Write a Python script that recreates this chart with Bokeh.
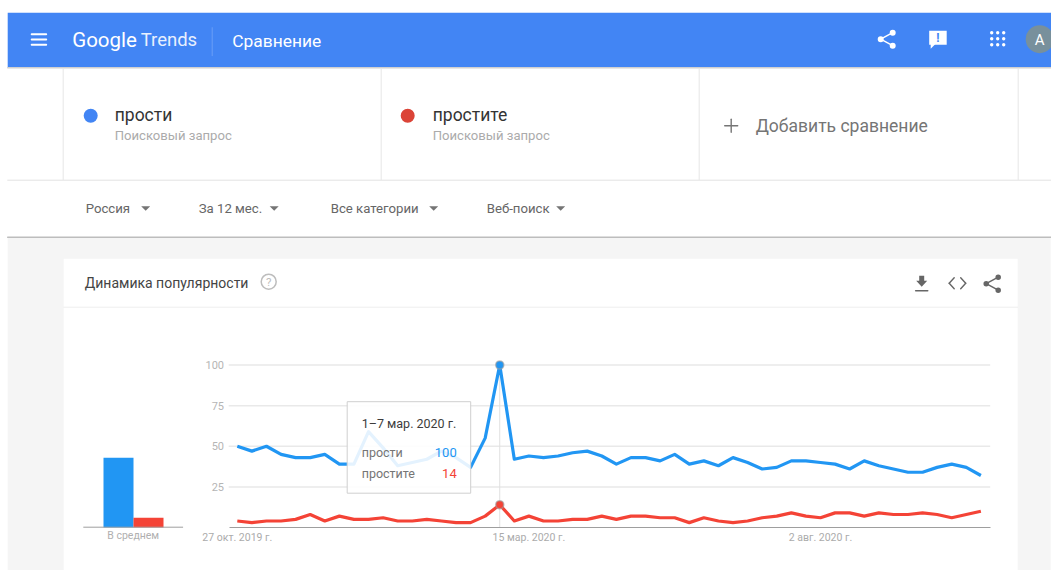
from bokeh.core.properties import value
from bokeh.embed import file_html
from bokeh.models import FixedTicker, LinearAxis, Range1d
from bokeh.plotting import figure
from bokeh.resources import INLINE

# Weekly search interest
terms = ["прости", "простите"]
prosti = [50, 47, 50, 45, 43, 43, 45, 39, 39, 59, 49, 38, 40, 42, 47, 43, 37, 55, 100,
          42, 44, 43, 44, 46, 47, 44, 39, 43, 43, 41, 45, 39, 41, 38, 43, 40,
          36, 37, 41, 41, 40, 39, 36, 41, 38, 36, 34, 34, 37, 39, 37, 32]
prostite = [4, 3, 4, 4, 5, 8, 4, 7, 5, 5, 6, 4, 4, 5, 4, 3, 3, 7, 14,
            4, 7, 4, 4, 5, 5, 7, 5, 7, 7, 6, 6, 3, 6, 4, 3, 4,
            6, 7, 9, 7, 6, 9, 9, 7, 9, 8, 8, 9, 8, 6, 8, 10]
weeks = list(range(len(prosti)))
averages = [43, 6]
average_label = "В среднем"
y_ticks = [25, 50, 75, 100]
x_tick_labels = {0: "27 окт. 2019 г.", 20: "15 мар. 2020 г.", 40: "2 авг. 2020 г."}
peak_week = 18
peak_label = "1–7 мар. 2020 г."
filters = ["Россия", "За 12 мес.", "Все категории", "Веб-поиск"]

BLUE, RED = "#2196f3", "#f44336"
HEADER = "#4285f4"
FONT = "Roboto"

W, H = 1051, 570
X0, DX = 236.8, 14.58   # pixel position of the first week, pixels per week
Y0, DY = 527.0, 1.625   # pixel position of zero, pixels per index point
BAR_X0, BAR_W = 118.0, 30.0
SHIFT = 0.8             # nudge of the page furniture, in pixels

p = figure(width=W, height=H, output_backend="svg", toolbar_location=None,
           x_axis_type=None, y_axis_type=None,
           x_range=Range1d(-X0 / DX, (W - X0) / DX),
           y_range=Range1d(-(H - Y0) / DY, Y0 / DY),
           min_border=0, min_border_left=0, min_border_right=0,
           min_border_top=0, min_border_bottom=0,
           outline_line_color=None, background_fill_color="white",
           border_fill_color="white")
p.grid.visible = False
p.extra_x_ranges["page"] = Range1d(SHIFT, W + SHIFT)
p.extra_y_ranges["page"] = Range1d(H + SHIFT, SHIFT)
p.extra_x_ranges["avg"] = Range1d(-BAR_X0 / BAR_W, (W - BAR_X0) / BAR_W)
PAGE = dict(x_range_name="page", y_range_name="page")


def box(left, right, top, bottom, color, alpha=1.0, line=None):
    p.quad(left=[left], right=[right], top=[top], bottom=[bottom], fill_color=color,
           fill_alpha=alpha, line_color=line, **PAGE)


def rule(x0, y0, x1, y1, color, width=1.0):
    p.segment(x0=[x0], y0=[y0], x1=[x1], y1=[y1], line_color=color, line_width=width,
              line_cap="round", **PAGE)


def dot(x, y, diameter, color, line=None, line_width=1.0):
    p.scatter(x=[x], y=[y], size=diameter, marker="circle", fill_color=color,
              line_color=line, line_width=line_width, **PAGE)


def tri(x, y, half=4.5, h=4.5, color="#757575"):
    p.patch(x=[x - half, x + half, x], y=[y, y, y + h], fill_color=color, line_color=None, **PAGE)


def write(x, y, s, size, color, align="left", style="normal"):
    p.text(x=[x], y=[y], text=[s], text_font=value(FONT), text_font_size=f"{size}px",
           text_color=color, text_align=align, text_baseline="middle",
           text_font_style=style, **PAGE)


def share_icon(x, y, color, node=5.5, reach=12.0, spread=6.5):
    # three joined nodes, x/y give the left node
    a, b = (x + reach, y - spread), (x + reach, y + spread)
    rule(x, y, a[0], a[1], color, 1.5)
    rule(x, y, b[0], b[1], color, 1.5)
    for cx, cy in [(x, y), a, b]:
        dot(cx, cy, node, color)


# Page regions
box(8, W, 68, 238, "white")
box(8, W, 238, H + 2, "#f5f5f5")
box(64, 1018, 259, H + 2, "white")
box(8, W + 2, 13, 67.5, HEADER)
rule(8, 68, W + 2, 68, "#d0d0d0", 1.5)
rule(8, 180.5, W + 2, 180.5, "#e3e3e3")
rule(8, 237.5, W + 2, 237.5, "#bdbdbd", 1.5)
rule(64, 307.5, 1018, 307.5, "#eeeeee")
for vx in [63.5, 381.5, 699.5, 1018.5]:
    rule(vx, 69, vx, 180, "#e6e6e6")

# Header bar
for hy in [34.5, 39.7, 45]:
    rule(32, hy, 46.5, hy, "white", 2)
write(72.5, 40, "Google", 20.5, "white")
write(141, 40, "Trends", 18.5, "#e8f0fe")
rule(212.5, 28, 212.5, 56, "#6a9ff6")
write(232.5, 41, "Сравнение", 17.4, "white")
share_icon(881, 39.5, "white", node=6)
box(929.5, 947, 31, 45, "white")
p.patch(x=[931, 936, 931], y=[44, 44, 49], fill_color="white", line_color=None, **PAGE)
write(938.2, 38, "!", 12, HEADER, "center", "bold")
for gy in [33, 39, 45]:
    for gx in [992, 998, 1004]:
        dot(gx, gy, 3.4, "white")
dot(1040, 39.5, 28, "#78909c")
write(1040, 40, "A", 15, "white", "center")

# Search term chips
dot(91, 116, 14, HEADER)
write(115, 115, terms[0], 17.5, "#333333")
write(115, 136, "Поисковый запрос", 13.1, "#ababab")
dot(408, 116, 14, "#db4437")
write(433, 115, terms[1], 17.5, "#333333")
write(433, 136, "Поисковый запрос", 13.1, "#ababab")
rule(731.5, 119.5, 731.5, 132.5, "#757575", 1.4)
rule(725, 126, 738, 126, "#757575", 1.4)
write(756, 126.5, "Добавить сравнение", 17.5, "#757575")

# Filter row
for label, lx, ax in zip(filters, [86, 199, 331, 487], [146, 274.5, 434, 561]):
    write(lx, 209, label, 13.2, "#666666")
    tri(ax, 206.5)

# Card header
write(85, 283, "Динамика популярности", 14, "#444444")
dot(269, 282, 15, None, "#bdbdbd", 1.5)
write(269, 282.5, "?", 11.5, "#bdbdbd", "center")
p.patch(x=[919.5, 924.5, 924.5, 927.5, 922, 916.5, 919.5],
        y=[276, 276, 281, 281, 287, 281, 281], fill_color="#666666", line_color=None, **PAGE)
rule(916, 291, 928, 291, "#666666", 1.6)
for cx, tip in [(954.5, 949.5), (961, 966)]:
    rule(cx, 278, tip, 283.5, "#666666", 1.4)
    rule(tip, 283.5, cx, 289, "#666666", 1.4)
share_icon(986.5, 284, "#666666", node=5.5)

# Average bars
p.vbar(x=[0, 1], top=averages, bottom=0, width=1, fill_color=[BLUE, RED], line_color=None,
       x_range_name="avg")
rule(84, 527.5, 183, 527.5, "#9e9e9e")
write(133.5, 536, average_label, 10.5, "#b0b0b0", "center")

# Gridlines reach only across the plotting band of the card
p.segment(x0=[229] * len(y_ticks), x1=[990.5] * len(y_ticks), y0=y_ticks, y1=y_ticks,
          line_color="#e9e9e9", line_width=1.5, x_range_name="page")

# Hover guide and weekly series
p.segment(x0=[peak_week], x1=[peak_week], y0=[0], y1=[prosti[peak_week]],
          line_color="#e0e0e0", line_width=1)
p.line(weeks, prosti, line_color=BLUE, line_width=3.2, line_join="round")
p.line(weeks, prostite, line_color=RED, line_width=3.2, line_join="round")
for series, color in [(prosti, BLUE), (prostite, RED)]:
    p.scatter(x=[peak_week], y=[series[peak_week]], size=8, marker="circle", fill_color=color,
              line_color="#9e9e9e", line_alpha=0.6, line_width=1.6)

# Axes placed inside the frame
y_axis = LinearAxis(fixed_location=(228.5 - X0) / DX, ticker=FixedTicker(ticks=y_ticks),
                    axis_line_color=None, major_tick_line_color=None, minor_tick_line_color=None,
                    major_tick_in=0, major_tick_out=0, major_label_standoff=5,
                    major_label_text_font=FONT, major_label_text_font_size="11px",
                    major_label_text_color="#b5b5b5")
p.add_layout(y_axis, "left")
x_axis = LinearAxis(fixed_location=0, ticker=FixedTicker(ticks=list(x_tick_labels)),
                    major_label_overrides=x_tick_labels,
                    bounds=((228.5 - X0) / DX, (990 - X0) / DX),
                    axis_line_color="#9e9e9e", axis_line_width=1,
                    major_tick_line_color=None, minor_tick_line_color=None,
                    major_tick_in=0, major_tick_out=0, major_label_standoff=3,
                    major_label_text_font=FONT, major_label_text_font_size="10.5px",
                    major_label_text_color="#ababab")
p.add_layout(x_axis, "below")

# Tooltip for the peak week
box(347.5, 471, 402, 493.5, "white", 0.88, "#cfcfcf")
write(362, 423.5, peak_label, 12.5, "#3c3c3c")
write(362, 453, terms[0], 12.5, "#757575")
write(362, 473.5, terms[1], 12.5, "#757575")
write(457, 453, str(prosti[peak_week]), 13, BLUE, "right")
write(457, 473.5, str(prostite[peak_week]), 13, RED, "right")

with open("out.html", "w") as f:
    f.write(file_html(p, INLINE))
